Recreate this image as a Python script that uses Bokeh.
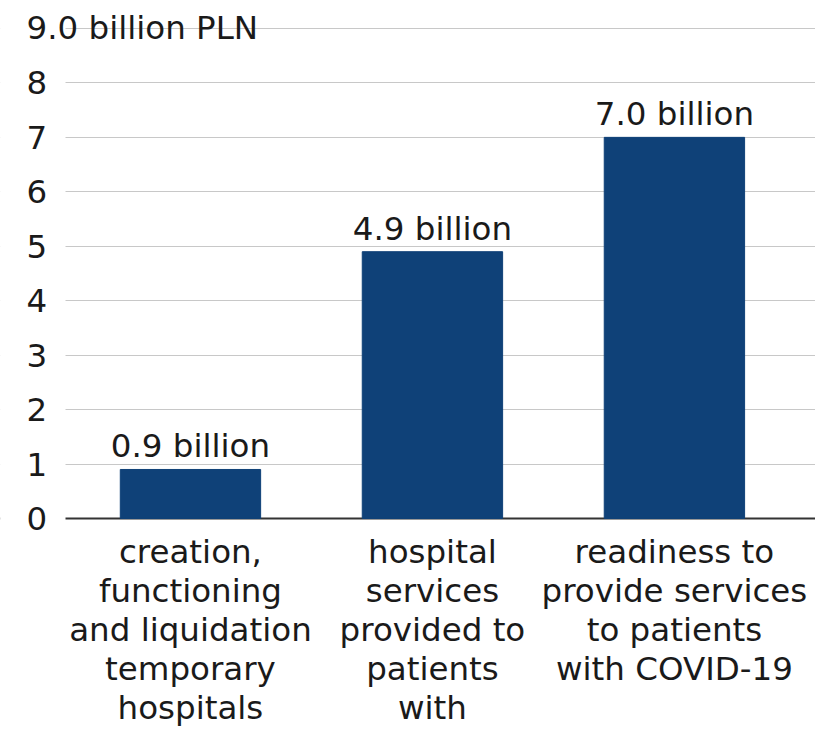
from bokeh.plotting import figure
from bokeh.models import FixedTicker, Grid, BoxAnnotation, ColumnDataSource, Range1d
from bokeh.core.properties import value
from bokeh.embed import file_html
from bokeh.resources import INLINE

# ---- data ----
categories = [
    "creation,\nfunctioning\nand liquidation\ntemporary\nhospitals",
    "hospital\nservices\nprovided to\npatients\nwith",
    "readiness to\nprovide services\nto patients\nwith COVID-19",
]
values = [0.9, 4.9, 7.0]
value_labels = ["0.9 billion", "4.9 billion", "7.0 billion"]
y_ticks = [0, 1, 2, 3, 4, 5, 6, 7, 8]
y_tick_labels = ["0", "1", "2", "3", "4", "5", "6", "7", "8"]
grid_ticks = [1, 2, 3, 4, 5, 6, 7, 8, 9]
top_tick = [9]
top_tick_label = ["9.0 billion PLN"]

FONT = "DejaVu Sans"
FS = "32.5px"
TXT = "#1a1a1a"
BAR = "#0f4178"

W, H = 815, 729
X0, X1 = -0.785, 2.583
Y0, Y1 = -3.876, 9.514
AXIS_EDGE = X0 + 65 * (X1 - X0) / W   # where the gridlines begin

src = ColumnDataSource(dict(
    x=list(range(len(categories))),
    top=values,
    lab=value_labels,
    cat=categories,
))
tick_src = ColumnDataSource(dict(x=[X0] * len(y_ticks), y=y_ticks, t=y_tick_labels))
top_src = ColumnDataSource(dict(x=[X0], y=top_tick, t=top_tick_label))

p = figure(width=W, height=H,
           x_range=Range1d(X0, X1), y_range=Range1d(Y0, Y1),
           x_axis_location=None, y_axis_location=None,
           output_backend="svg", toolbar_location=None,
           min_border=0)
p.outline_line_color = None
p.background_fill_color = "white"
p.border_fill_color = "white"
p.grid.visible = False

# grid lines and baseline
p.add_layout(Grid(dimension=1, ticker=FixedTicker(ticks=grid_ticks),
                  grid_line_color="#c8c8c8", grid_line_width=1))
p.add_layout(Grid(dimension=1, ticker=FixedTicker(ticks=[0]),
                  grid_line_color="#333333", grid_line_width=2))
# keep the label column free of grid lines
p.add_layout(BoxAnnotation(left=X0 - 0.2, right=AXIS_EDGE, fill_color="white",
                           fill_alpha=1.0, line_color=None, level="underlay"))

p.vbar(x="x", top="top", width=0.58, source=src, fill_color=BAR, line_color=BAR)

p.text(x="x", y="top", text="lab", source=src, y_offset=-4,
       text_align="center", text_baseline="bottom",
       text_font=value(FONT), text_font_size=FS, text_color=TXT)

p.text(x="x", y=0, text="cat", source=src, y_offset=15,
       text_align="center", text_baseline="top", text_line_height=1.025,
       text_font=value(FONT), text_font_size=FS, text_color=TXT)

p.text(x="x", y="y", text="t", source=tick_src, x_offset=26,
       text_align="left", text_baseline="middle",
       text_font=value(FONT), text_font_size=FS, text_color=TXT)

p.text(x="x", y="y", text="t", source=top_src, x_offset=26,
       text_align="left", text_baseline="middle",
       text_font=value(FONT), text_font_size=FS, text_color=TXT)

open("out.html", "w").write(file_html(p, INLINE, title="chart"))
